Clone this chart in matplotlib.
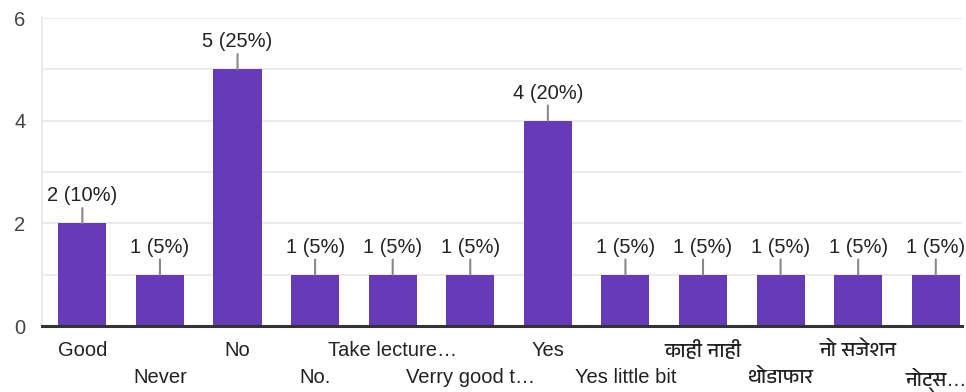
import matplotlib.pyplot as plt
from matplotlib import font_manager
import numpy as np

answers = ['Good', 'Never', 'No', 'No.', 'Take lecture…', 'Verry good t…', 'Yes',
           'Yes little bit', 'काही नाही', 'थोडाफार', 'नो सजेशन', 'नोट्स…']
counts = [2, 1, 5, 1, 1, 1, 4, 1, 1, 1, 1, 1]
total = 20

# look for any installed font that can draw Devanagari
fams = ['Liberation Sans']
for f in font_manager.fontManager.ttflist:
    n = f.name
    if ('Devanagari' in n or 'Lohit' in n or 'Mukta' in n or 'Mangal' in n) and n not in fams:
        fams.append(n)
fams.append('DejaVu Sans')
plt.rcParams['font.family'] = fams

purple = '#673ab7'
txt = '#222222'

fig = plt.figure(figsize=(9.66, 3.92), dpi=100)
ax = fig.add_axes([0.0435, 0.168, 0.9525, 0.786])

x = np.arange(len(answers))
ax.bar(x, counts, width=0.62, color=purple, zorder=3)

for xi, c in zip(x, counts):
    pct = round(c / total * 100)
    ax.annotate(f'{c} ({pct}%)', xy=(xi, c), xytext=(0, 13), textcoords='offset points',
                ha='center', va='bottom', fontsize=14.5, color=txt,
                arrowprops=dict(arrowstyle='-', color='#888888', lw=1.5, shrinkA=0, shrinkB=0))

ax.set_xlim(-0.52, 11.34)
ax.set_ylim(0, 6)
ax.set_yticks([0, 2, 4, 6])
ax.set_yticks([1, 3, 5], minor=True)
ax.yaxis.grid(True, which='both', color='#ebebeb', lw=1.5, zorder=0)

# labels alternate between two rows
ax.set_xticks(x[::2], answers[::2])
ax.set_xticks(x[1::2], answers[1::2], minor=True)
ax.tick_params(axis='x', which='major', length=0, pad=11, labelsize=14.5, labelcolor=txt)
ax.tick_params(axis='x', which='minor', length=0, pad=30, labelsize=14.5, labelcolor=txt)
ax.tick_params(axis='y', which='both', length=0, pad=12, labelsize=14.5, labelcolor='#444444')

for s in ['top', 'right']:
    ax.spines[s].set_visible(False)
ax.spines['left'].set_color('#ebebeb')
ax.spines['left'].set_linewidth(1.5)
ax.spines['bottom'].set_color('#333333')
ax.spines['bottom'].set_linewidth(2.2)
ax.spines['bottom'].set_zorder(4)

fig.savefig('out.png', dpi=100)
